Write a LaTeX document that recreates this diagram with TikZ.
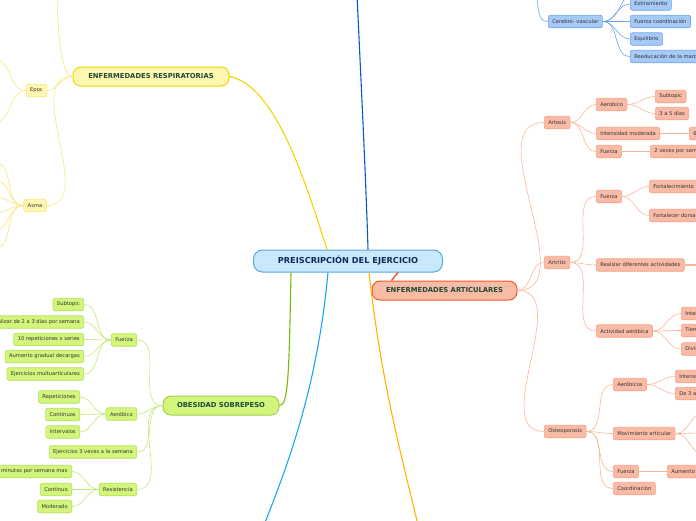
\documentclass[tikz,border=0pt]{standalone}
\usepackage{fontspec}
\setmainfont{DejaVu Sans}
\usetikzlibrary{calc}
\definecolor{rootfill}{HTML}{C7E9FB}
\definecolor{rootline}{HTML}{5AA8DE}
\definecolor{roottext}{HTML}{14285A}
\definecolor{salfill}{HTML}{F9BBA6}
\definecolor{salline}{HTML}{F7A283}
\definecolor{salmain}{HTML}{F05A28}
\definecolor{yelfill}{HTML}{FFF7B0}
\definecolor{yelline}{HTML}{F6E77A}
\definecolor{yelmain}{HTML}{F2D500}
\definecolor{grnfill}{HTML}{D2F57C}
\definecolor{grnline}{HTML}{B4E15A}
\definecolor{grnmain}{HTML}{7DB900}
\definecolor{blufill}{HTML}{A6C9F8}
\definecolor{bluline}{HTML}{6FA5EC}
\definecolor{darkblue}{HTML}{0A56D2}
\definecolor{skyblue}{HTML}{19A6F2}
\definecolor{orangeln}{HTML}{FFB400}
\definecolor{topictext}{HTML}{1B4A36}

\begin{document}
\begin{tikzpicture}[
  x=1pt, y=-1pt,
  root/.style={draw=rootline, fill=rootfill, rounded corners=9pt, line width=1pt, minimum width=189pt, minimum height=22pt, font=\fontsize{8.2}{9}\selectfont\bfseries, text=roottext},
  topic/.style={rounded corners=8pt, line width=1pt, minimum height=19pt, font=\fontsize{6.8}{8}\selectfont\bfseries, text=topictext},
  leaf/.style={rounded corners=2pt, line width=0.6pt, minimum height=12.5pt, inner xsep=4pt, inner ysep=1pt, font=\fontsize{5.2}{6}\selectfont, text=black!80},
  sal/.style={leaf, draw=salline, fill=salfill},
  yel/.style={leaf, draw=yelline, fill=yelfill},
  grn/.style={leaf, draw=grnline, fill=grnfill},
  blu/.style={leaf, draw=bluline, fill=blufill},
  salink/.style={draw=salline!80, line width=0.6pt},
  yelink/.style={draw=yelline, line width=0.6pt},
  grnlink/.style={draw=grnline!80, line width=0.6pt},
  blulink/.style={draw=bluline, line width=0.6pt}
]
\useasboundingbox (0,0) rectangle (696,520);
\clip (0,0) rectangle (696,520);

\node[root] (root) at (348,261) {PREISCRIPCIÓN DEL EJERCICIO};
\node[topic, draw=salmain, fill=salfill, minimum width=145pt] (artic) at (444.5,290.5) {ENFERMEDADES ARTICULARES};
\node[topic, draw=yelmain, fill=yelfill, minimum width=156pt] (resp) at (151,76.5) {ENFERMEDADES RESPIRATORIAS};
\node[topic, draw=grnmain!70, fill=grnfill, minimum width=116pt] (obes) at (221,405.5) {OBESIDAD SOBREPESO};

\coordinate (cardio) at (357,-5);
\coordinate (skyend) at (264,525);
\coordinate (orgend) at (418,525);

\draw[salmain, line width=1.4pt] ($(root.south)+(50,0)$) -- ($(artic.north)+(-53,0)$);
\draw[yelmain, line width=1.1pt] ($(root.north)+(-21,0)$) .. controls (305,180) and (275,85) .. (resp.east);
\draw[darkblue, line width=1.1pt] ($(root.north)+(20,0)$) .. controls (366,180) and (360,60) .. (cardio);
\draw[grnmain, line width=1.1pt] ($(root.south)+(-57,0)$) .. controls (289,380) and (288,405) .. (obes.east);
\draw[skyblue, line width=1.1pt] ($(root.south)+(-20,0)$) .. controls (318,380) and (292,455) .. (skyend);
\draw[orangeln, line width=1.1pt] ($(root.south)+(21,0)$) .. controls (381,380) and (400,450) .. (orgend);

\node[sal, anchor=west] (artosis) at (544,122.5) {Artosis};
\node[sal, anchor=west] (aerob) at (596,104.5) {Aerobico};
\node[sal, anchor=west] (subt1) at (655,96.5) {Subtopic};
\node[sal, anchor=west] (dias) at (655,113.5) {3 a 5 días};
\node[sal, anchor=west] (intmod) at (596,133.5) {Intensidad moderada};
\node[sal, anchor=west] (seis) at (689,133.5) {6};
\node[sal, anchor=west] (fza1) at (596,151.5) {Fuerza};
\node[sal, anchor=west] (veces) at (650,151.5) {2 veces por semana};

\node[sal, anchor=west] (artritis) at (544,262.5) {Artritis};
\node[sal, anchor=west] (fza2) at (596,196.5) {Fuerza};
\node[sal, anchor=west] (fort1) at (649,186.5) {Fortalecimiento};
\node[sal, anchor=west] (fort2) at (649,215.5) {Fortalecer dorsales};
\node[sal, anchor=west] (realiz) at (596,265) {Realizar diferentes actividades};
\node[sal, anchor=west] (actaer) at (596,331) {Actividad aeróbica};
\node[sal, anchor=west] (inte) at (681,313.5) {Intensidad};
\node[sal, anchor=west] (tiem) at (681,330.5) {Tiempo};
\node[sal, anchor=west] (divi) at (681,349) {Divisiones};

\node[sal, anchor=west] (osteo) at (544,431.5) {Osteoporosis};
\node[sal, anchor=west] (aerobs) at (613,384.5) {Aeróbicos};
\node[sal, anchor=west] (intens) at (675,376.5) {Intensidad};
\node[sal, anchor=west] (de3) at (675,393.5) {De 3 a 5 días};
\node[sal, anchor=west] (movart) at (613,433.5) {Movimiento articular};
\node[sal, anchor=west] (fza3) at (613,471.5) {Fuerza};
\node[sal, anchor=west] (aum) at (667,471.5) {Aumento};
\node[sal, anchor=west] (coord) at (613,488.5) {Coordinación};

\coordinate (realout) at (705,265);
\coordinate (mov1) at (705,412);
\coordinate (mov2) at (705,433);
\coordinate (mov3) at (705,455);

\draw[salink] (artic.east) to[out=0,in=180] (artosis.west);
\draw[salink] (artic.east) to[out=0,in=180] (artritis.west);
\draw[salink] (artic.east) to[out=0,in=180] (osteo.west);
\draw[salink] (artosis.east) to[out=0,in=180] (aerob.west);
\draw[salink] (artosis.east) to[out=0,in=180] (intmod.west);
\draw[salink] (artosis.east) to[out=0,in=180] (fza1.west);
\draw[salink] (aerob.east) to[out=0,in=180] (subt1.west);
\draw[salink] (aerob.east) to[out=0,in=180] (dias.west);
\draw[salink] (intmod.east) -- (seis.west);
\draw[salink] (fza1.east) -- (veces.west);
\draw[salink] (artritis.east) to[out=0,in=180] (fza2.west);
\draw[salink] (artritis.east) to[out=0,in=180] (realiz.west);
\draw[salink] (artritis.east) to[out=0,in=180] (actaer.west);
\draw[salink] (fza2.east) to[out=0,in=180] (fort1.west);
\draw[salink] (fza2.east) to[out=0,in=180] (fort2.west);
\draw[salink, line width=1.2pt] (realiz.east) -- (realout);
\draw[salink] (actaer.east) to[out=0,in=180] (inte.west);
\draw[salink] (actaer.east) to[out=0,in=180] (tiem.west);
\draw[salink] (actaer.east) to[out=0,in=180] (divi.west);
\draw[salink] (osteo.east) to[out=0,in=180] (aerobs.west);
\draw[salink] (osteo.east) to[out=0,in=180] (movart.west);
\draw[salink] (osteo.east) to[out=0,in=180] (fza3.west);
\draw[salink] (osteo.east) to[out=0,in=180] (coord.west);
\draw[salink] (aerobs.east) to[out=0,in=180] (intens.west);
\draw[salink] (aerobs.east) to[out=0,in=180] (de3.west);
\draw[salink] (movart.east) to[out=0,in=180] (mov1);
\draw[salink] (movart.east) to[out=0,in=180] (mov2);
\draw[salink] (movart.east) to[out=0,in=180] (mov3);
\draw[salink] (fza3.east) -- (aum.west);

\node[blu, anchor=west] (cerebro) at (548,21.5) {Cerebro- vascular};
\node[blu, anchor=west] (estir) at (630,4) {Estiramiento};
\node[blu, anchor=west] (fzacoord) at (630,21.5) {Fuerza coordinación};
\node[blu, anchor=west] (equil) at (630,39) {Equilibrio};
\node[blu, anchor=west] (reed) at (630,56.5) {Reeducación de la marcha};
\coordinate (cerup) at (537,-5);
\coordinate (cerout) at (640,-12);

\draw[blulink] (cerup) .. controls (538,15) and (540,21.5) .. (cerebro.west);
\draw[blulink] (cerebro.east) to[out=0,in=180] (cerout);
\draw[blulink] (cerebro.east) to[out=0,in=180] (estir.west);
\draw[blulink, line width=1pt] (cerebro.east) -- (fzacoord.west);
\draw[blulink] (cerebro.east) to[out=0,in=180] (equil.west);
\draw[blulink] (cerebro.east) to[out=0,in=180] (reed.west);

\node[yel] (epoc) at (36.5,90.5) {Epoc};
\node[yel] (asma) at (35,205.5) {Asma};
\coordinate (respup) at (57,-5);
\coordinate (ep1) at (-5,60);
\coordinate (ep2) at (-5,122);

\draw[yelink] (resp.west) .. controls (62,77) and (58,40) .. (respup);
\draw[yelink] (resp.west) to[out=180,in=0] (epoc.east);
\draw[yelink] (resp.west) to[out=180,in=0] (asma.east);
\draw[yelink] (epoc.west) to[out=180,in=0] (ep1);
\draw[yelink] (epoc.west) to[out=180,in=0] (ep2);
\foreach \yy in {163,180,197,213,230,248}
  \draw[yelink] (asma.west) to[out=180,in=0] (-5,\yy);

\node[grn, anchor=east] (fza4) at (137,340) {Fuerza};
\node[grn, anchor=east] (subt2) at (84,304.5) {Subtopic};
\node[grn, anchor=east] (realiz2) at (84,322) {Realizar de 2 a 3 días por semana};
\node[grn, anchor=east] (rep10) at (84,339.5) {10 repeticiones x series};
\node[grn, anchor=east] (aumgrad) at (84,356.5) {Aumento gradual decargas};
\node[grn, anchor=east] (multi) at (84,374) {Ejercicios multuarticulares};
\node[grn, anchor=east] (aerob2) at (137,414) {Aeróbico};
\node[grn, anchor=east] (repet) at (80,397) {Repeticiones};
\node[grn, anchor=east] (cont) at (80,414.5) {Continuos};
\node[grn, anchor=east] (interv) at (80,432) {Intervalos};
\node[grn, anchor=east] (ej3) at (137,452) {Ejercicios 3 veces a la semana};
\node[grn, anchor=east] (resis) at (137,489.5) {Resistencia};
\node[grn, anchor=east] (minut) at (72,471.5) {150 minutos por semana max};
\node[grn, anchor=east] (continuo) at (72,489.5) {Continuo};
\node[grn, anchor=east] (moder) at (72,506.5) {Moderado};

\draw[grnlink] (obes.west) to[out=180,in=0] (fza4.east);
\draw[grnlink] (obes.west) to[out=180,in=0] (aerob2.east);
\draw[grnlink] (obes.west) to[out=180,in=0] (ej3.east);
\draw[grnlink] (obes.west) to[out=180,in=0] (resis.east);
\draw[grnlink] (fza4.west) to[out=180,in=0] (subt2.east);
\draw[grnlink] (fza4.west) to[out=180,in=0] (realiz2.east);
\draw[grnlink] (fza4.west) to[out=180,in=0] (rep10.east);
\draw[grnlink] (fza4.west) to[out=180,in=0] (aumgrad.east);
\draw[grnlink] (fza4.west) to[out=180,in=0] (multi.east);
\draw[grnlink] (aerob2.west) to[out=180,in=0] (repet.east);
\draw[grnlink] (aerob2.west) to[out=180,in=0] (cont.east);
\draw[grnlink] (aerob2.west) to[out=180,in=0] (interv.east);
\draw[grnlink] (resis.west) to[out=180,in=0] (minut.east);
\draw[grnlink] (resis.west) to[out=180,in=0] (continuo.east);
\draw[grnlink] (resis.west) to[out=180,in=0] (moder.east);
\end{tikzpicture}
\end{document}
